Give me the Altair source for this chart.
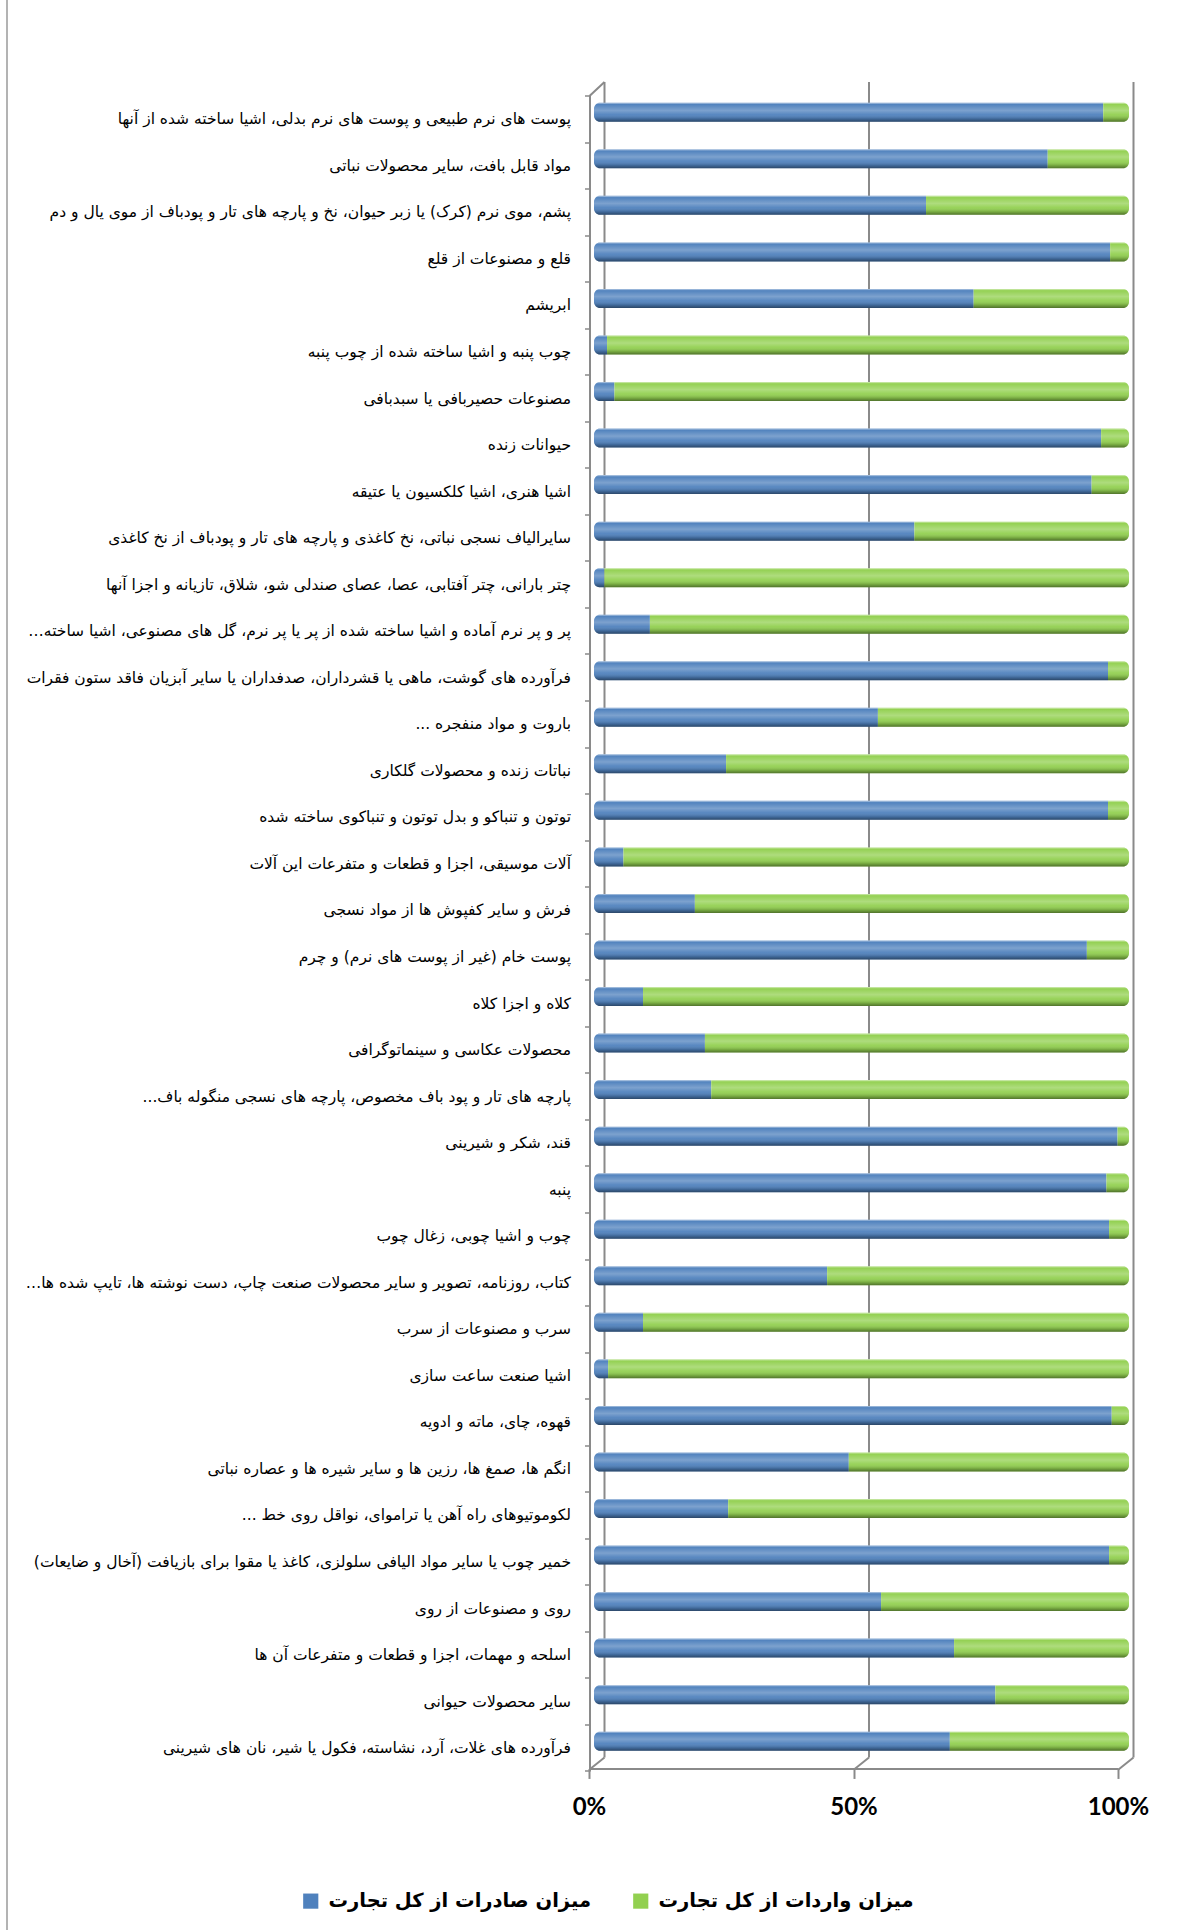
import altair as alt
import pandas as pd

# Trade categories (top to bottom) and each one's share of total trade, in percent
categories = [
    "پوست های نرم طبیعی و پوست های نرم بدلی، اشیا ساخته شده از آنها",
    "مواد قابل بافت، سایر محصولات نباتی",
    "پشم، موی نرم (کرک) یا زبر حیوان، نخ و پارچه های تار و پودباف از موی یال و دم",
    "قلع و مصنوعات از قلع",
    "ابریشم",
    "چوب پنبه و اشیا ساخته شده از چوب پنبه",
    "مصنوعات حصیربافی یا سبدبافی",
    "حیوانات زنده",
    "اشیا هنری، اشیا کلکسیون یا عتیقه",
    "سایرالیاف نسجی نباتی، نخ کاغذی و پارچه های تار و پودباف از نخ کاغذی",
    "چتر بارانی، چتر آفتابی، عصا، عصای صندلی شو، شلاق، تازیانه و اجزا آنها",
    "پر و پر نرم آماده و اشیا ساخته شده از پر یا پر نرم، گل های مصنوعی، اشیا ساخته…",
    "فرآورده های گوشت، ماهی یا قشرداران، صدفداران یا سایر آبزیان فاقد ستون فقرات",
    "باروت و مواد منفجره ...",
    "نباتات زنده و محصولات گلکاری",
    "توتون و تنباکو و بدل توتون و تنباکوی ساخته شده",
    "آلات موسیقی، اجزا و قطعات و متفرعات این آلات",
    "فرش و سایر کفپوش ها از مواد نسجی",
    "پوست خام (غیر از پوست های نرم) و چرم",
    "کلاه و اجزا کلاه",
    "محصولات عکاسی و سینماتوگرافی",
    "پارچه های تار و پود باف مخصوص، پارچه های نسجی منگوله باف...",
    "قند، شکر و شیرینی",
    "پنبه",
    "چوب و اشیا چوبی، زغال چوب",
    "کتاب، روزنامه، تصویر و سایر محصولات صنعت چاپ، دست نوشته ها، تایپ شده ها…",
    "سرب و مصنوعات از سرب",
    "اشیا صنعت ساعت سازی",
    "قهوه، چای، ماته و ادویه",
    "انگم ها، صمغ ها، رزین ها و سایر شیره ها و عصاره نباتی",
    "لکوموتیوهای راه آهن یا تراموای، نواقل روی خط ...",
    "خمیر چوب یا سایر مواد الیافی سلولزی، کاغذ یا مقوا برای بازیافت (آخال و ضایعات)",
    "روی و مصنوعات از روی",
    "اسلحه و مهمات، اجزا و قطعات و متفرعات آن ها",
    "سایر محصولات حیوانی",
    "فرآورده های غلات، آرد، نشاسته، فکول یا شیر، نان های شیرینی",
]

export_share = [
    95.7, 85.2, 62.2, 97.0, 71.2, 1.9, 3.3, 95.3, 93.5, 60.0,
    1.4, 10.0, 96.6, 53.1, 24.4, 96.6, 5.0, 18.5, 92.6, 8.7,
    20.4, 21.6, 98.4, 96.3, 96.8, 43.5, 8.7, 2.1, 97.3, 47.6,
    24.8, 96.8, 53.7, 67.5, 75.3, 66.7,
]

import_share = [
    4.3, 14.8, 37.8, 3.0, 28.8, 98.1, 96.7, 4.7, 6.5, 40.0,
    98.6, 90.0, 3.4, 46.9, 75.6, 3.4, 95.0, 81.5, 7.4, 91.3,
    79.6, 78.4, 1.6, 3.7, 3.2, 56.5, 91.3, 97.9, 2.7, 52.4,
    75.2, 3.2, 46.3, 32.5, 24.7, 33.3,
]

axis_ticks = [0, 50, 100]

SERIES_EXP = "میزان صادرات از کل تجارت"
SERIES_IMP = "میزان واردات از کل تجارت"
series_colors = ["#4f81bd", "#92d050"]

LABEL_FONT = "DejaVu Sans"
NUM_FONT = "Lato"

# A trailing right-to-left mark keeps ellipses and brackets at the visual end of each label
RLM = "\u200f"
cat_order = [c + RLM for c in categories]

rows = []
for c, e, m in zip(cat_order, export_share, import_share):
    rows.append({"cat": c, "series": SERIES_EXP, "start": 0.0, "end": e})
    rows.append({"cat": c, "series": SERIES_IMP, "start": e, "end": e + m})
bars = pd.DataFrame(rows)
ticks_df = pd.DataFrame({"v": axis_ticks})

# geometry of the plot area
W = 529
STEP = 46.54
H = STEP * len(categories)
PAD_L, PAD_T = 597, 89
PAD_R = 1187 - PAD_L - W
PAD_B = 1930 - PAD_T - H
DX, DY = 7.5, 7  # half depth of the 3-D walls
AXIS_GREY = "#8a8a8a"
BAR_SIZE = 19
CAP = 3  # rounded cylinder ends reach slightly past the walls' midline

x_scale = alt.Scale(domain=[0, 100], nice=False, zero=True)
y_scale = alt.Scale(paddingInner=0, paddingOuter=0)

x_axis = alt.Axis(
    values=axis_ticks, labelExpr="datum.value + '%'", title=None, grid=False,
    domainColor=AXIS_GREY, domainWidth=2, tickColor=AXIS_GREY, tickWidth=2,
    tickSize=10, labelFont=NUM_FONT, labelFontSize=24, labelFontWeight="bold",
    labelColor="black", labelPadding=17, labelFlush=False, offset=12, translate=-DX,
)
y_axis = alt.Axis(
    title=None, orient="left", domainColor=AXIS_GREY, domainWidth=2,
    tickColor=AXIS_GREY, tickWidth=1.5, tickSize=5, tickBand="extent",
    labelFont=LABEL_FONT, labelFontSize=15.5, labelColor="black", labelPadding=14,
    labelLimit=620, offset=14, translate=DY, labelAlign="right",
)

legend = alt.Legend(
    orient="none", legendX=-296, legendY=1802, direction="horizontal", title=None,
    symbolType="square", symbolSize=230, symbolStrokeWidth=0,
    labelFont=LABEL_FONT, labelFontSize=19.5, labelFontWeight="bold",
    labelColor="black", labelLimit=500, labelOffset=8, columnPadding=40, padding=0,
)

color_enc = alt.Color(
    "series:N", scale=alt.Scale(domain=[SERIES_EXP, SERIES_IMP], range=series_colors),
    legend=legend,
)

base = alt.Chart(bars).encode(
    x=alt.X("start:Q", scale=x_scale, axis=x_axis),
    x2="end:Q",
    y=alt.Y("cat:N", sort=cat_order, scale=y_scale, axis=y_axis),
)

exp_style = dict(size=BAR_SIZE, cornerRadiusTopLeft=6, cornerRadiusBottomLeft=6, xOffset=-CAP)
imp_style = dict(size=BAR_SIZE, cornerRadiusTopRight=6, cornerRadiusBottomRight=6, x2Offset=CAP)

exp_bars = base.transform_filter(alt.datum.series == SERIES_EXP).mark_bar(
    **exp_style
).encode(color=color_enc)
imp_bars = base.transform_filter(alt.datum.series == SERIES_IMP).mark_bar(
    **imp_style
).encode(color=color_enc)

# cylinder shading laid over each segment
shade = alt.Gradient(
    gradient="linear", x1=0, x2=0, y1=0, y2=1,
    stops=[
        alt.GradientStop(offset=0.0, color="rgba(255,255,255,0.6)"),
        alt.GradientStop(offset=0.09, color="rgba(255,255,255,0.02)"),
        alt.GradientStop(offset=0.4, color="rgba(255,255,255,0.26)"),
        alt.GradientStop(offset=0.62, color="rgba(255,255,255,0.06)"),
        alt.GradientStop(offset=0.84, color="rgba(0,0,0,0.18)"),
        alt.GradientStop(offset=1.0, color="rgba(0,0,0,0.45)"),
    ],
)
exp_shade = base.transform_filter(alt.datum.series == SERIES_EXP).mark_bar(
    color=shade, **exp_style
)
imp_shade = base.transform_filter(alt.datum.series == SERIES_IMP).mark_bar(
    color=shade, **imp_style
)

# back wall gridlines
back_grid = alt.Chart(ticks_df).mark_rule(
    color=AXIS_GREY, strokeWidth=2, xOffset=DX, yOffset=-DY, y2Offset=-DY
).encode(x=alt.X("v:Q", scale=x_scale), y=alt.value(0), y2=alt.value(H))

# floor edges joining the front axis to the back wall
floor_edges = alt.Chart(ticks_df).mark_rule(
    color=AXIS_GREY, strokeWidth=2, xOffset=-DX, x2Offset=DX
).encode(
    x=alt.X("v:Q", scale=x_scale), x2="v:Q",
    y=alt.value(H + 5), y2=alt.value(H - DY),
)

# top corner of the side wall
corner = alt.Chart(ticks_df.head(1)).mark_rule(color=AXIS_GREY, strokeWidth=2).encode(
    x=alt.value(-DX), x2=alt.value(DX), y=alt.value(DY), y2=alt.value(-DY)
)

# outer frame line on the left
frame = alt.Chart(ticks_df.head(1)).mark_rule(color="#9a9a9a", strokeWidth=1.5).encode(
    x=alt.value(7 - PAD_L), y=alt.value(-PAD_T), y2=alt.value(1930 - PAD_T)
)

chart = alt.layer(
    frame, back_grid, floor_edges, corner, exp_bars, imp_bars, exp_shade, imp_shade
).properties(
    width=W, height=H,
    autosize=alt.AutoSizeParams(type="none"),
    padding={"left": PAD_L, "top": PAD_T, "right": PAD_R, "bottom": PAD_B},
    background="white",
).configure_view(stroke=None)

chart.save("out.html", embed_options={"renderer": "svg", "actions": False})
